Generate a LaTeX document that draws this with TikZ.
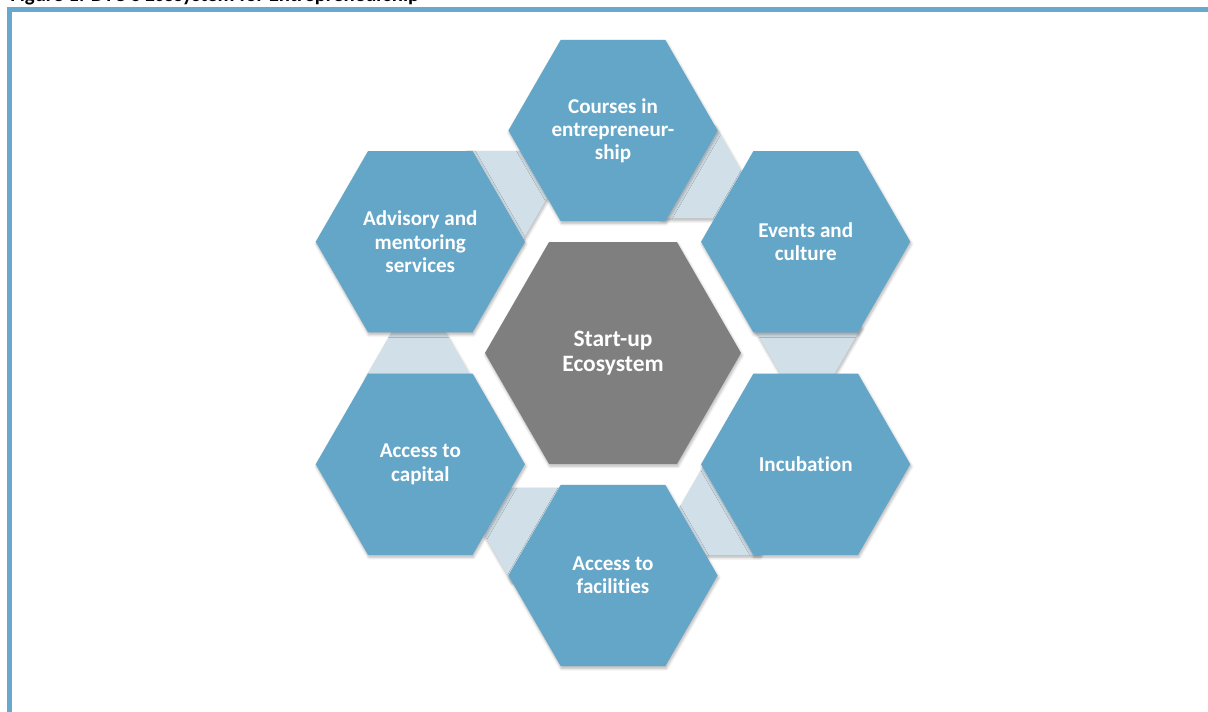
\documentclass[tikz,border=0pt]{standalone}
\usepackage{fontspec}
\setmainfont[Ligatures=NoCommon]{Carlito}
\usetikzlibrary{shapes.geometric,shadows.blur}

\definecolor{hexblue}{RGB}{100,166,200}
\definecolor{hexgray}{RGB}{127,127,127}
\definecolor{linkblue}{RGB}{209,223,232}
\definecolor{frameblue}{RGB}{104,168,204}

\tikzset{
  softshadow/.style={blur shadow={shadow xshift=0.6pt, shadow yshift=-1.6pt,
      shadow blur radius=2pt, shadow blur steps=6, shadow opacity=30}},
  linkbox/.style={regular polygon, regular polygon sides=6, minimum size=2.7cm,
      inner sep=0pt, fill=linkblue, softshadow},
  hexbox/.style={regular polygon, regular polygon sides=6, minimum size=5.23cm,
      inner sep=0pt, fill=hexblue, text=white, align=center, softshadow,
      font=\bfseries\fontsize{15}{16.5}\selectfont},
  hubbox/.style={hexbox, minimum size=6.4cm, fill=hexgray,
      font=\bfseries\fontsize{16.7}{18}\selectfont}
}

\begin{document}
\begin{tikzpicture}
    \useasboundingbox (-15.325,-8.95) rectangle (14.875,8.825);
    % caption and frame
    \node[anchor=base west, inner sep=0pt, font=\bfseries\fontsize{14.8}{17}\selectfont] (caption)
        at (-15.075,8.795) {Figure 1: DTU's Ecosystem for Entrepreneurship};
    \draw[frameblue, line width=3.3pt] (-15.085,-9.2) -- (-15.085,8.5875) -- (15.2,8.5875);
    % light links behind the ring
    \foreach \a [count=\i] in {7.6,67.6,...,307.6}
        \node[linkbox] (link\i) at (\a:4.905) {};
    % the ring
    \node[hexbox] (courses) at (90:5.5625) {Courses in\\entrepreneur-\\ship};
    \node[hexbox] (events) at (30:5.5625) {Events and\\culture};
    \node[hexbox] (incubation) at (-30:5.5625) {Incubation};
    \node[hexbox] (facilities) at (-90:5.5625) {Access to\\facilities};
    \node[hexbox] (capital) at (-150:5.5625) {Access to\\capital};
    \node[hexbox] (advisory) at (150:5.5625) {Advisory and\\mentoring\\services};
    % centre
    \node[hubbox] (hub) at (0,0) {Start-up\\Ecosystem};
\end{tikzpicture}
\end{document}
